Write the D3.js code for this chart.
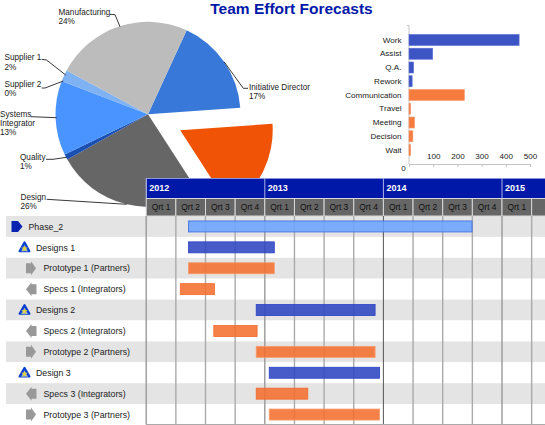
<!DOCTYPE html>
<html><head><meta charset="utf-8">
<script src="https://cdn.jsdelivr.net/npm/d3@7/dist/d3.min.js"></script>
<style>html,body{margin:0;padding:0;background:#fff}svg{display:block}text{font-family:"Liberation Sans",Arial,sans-serif}</style>
</head><body><svg id="c" width="545" height="425"></svg>
<script>
// ---- data ----
const pieNames = ["Initiative Director","","Design","Quality","Systems Integrator","Supplier 2","Supplier 1","Manufacturing"];
const pieValues = [17,17,26,1,13,0,2,24];
const pieColors = ["#3878d8","#f05206","#666666","#1a4fb4","#4a94ff","#2f6fd0","#7fb2f2","#bcbcbc"];
const barNames = ["Work","Assist","Q.A.","Rework","Communication","Travel","Meeting","Decision","Wait"];
const barValues = [455,98,19,13,229,7,23,16,7];
const barGroups = ["b","b","b","b","o","o","o","o","o"];
const barTicks = [0,100,200,300,400,500];
const years = [["2012",0,4],["2013",4,8],["2014",8,12],["2015",12,14.2]];
const quarters = ["Qrt 1","Qrt 2","Qrt 3","Qrt 4","Qrt 1","Qrt 2","Qrt 3","Qrt 4","Qrt 1","Qrt 2","Qrt 3","Qrt 4","Qrt 1",""];
const taskNames = ["Phase_2","Designs 1","Prototype 1 (Partners)","Specs 1 (Integrators)","Designs 2","Specs 2 (Integrators)","Prototype 2 (Partners)","Design 3","Specs 3 (Integrators)","Prototype 3 (Partners)"];
const taskKinds = ["phase","design","proto","spec","design","spec","proto","design","spec","proto"];
const taskStarts = [1.43,1.43,1.43,1.15,3.71,2.28,3.71,4.15,3.71,4.15];
const taskEnds = [10.99,4.32,4.32,2.30,7.72,3.74,7.72,7.87,5.45,7.87];

// ---- layout ----
const svg = d3.select("#c");
const BLUE="#0018a8", BARB="#2d45c0", BARO="#f4702f";

svg.append("text").attr("x",291.5).attr("y",13.5).attr("text-anchor","middle")
  .attr("font-size",15.5).attr("font-weight","bold").attr("fill",BLUE).text("Team Effort Forecasts");

// pie
const R=92.5, cx=148, cy=114.3, rad=Math.PI/180, startA=24.7*rad;
const pie=d3.pie().sort(null).startAngle(startA).endAngle(startA+2*Math.PI);
const arc=d3.arc().innerRadius(0).outerRadius(R);
const gp=svg.append("g").attr("transform",`translate(${cx},${cy})`);
const explodeIdx=1, explodeBy=36;
gp.selectAll("path").data(pie(pieValues)).join("path")
  .attr("d",arc).attr("fill",(d,i)=>pieColors[i])
  .attr("transform",(d,i)=>{
    if(i!==explodeIdx) return null;
    const m=(d.startAngle+d.endAngle)/2;
    return `translate(${Math.sin(m)*explodeBy},${-Math.cos(m)*explodeBy})`;
  });
// pie labels & leaders
const pieLabels=[
 {lines:["Manufacturing","24%"],x:58.5,y:14.7,leader:[[110,14.3],[115,14.7],[120,26.7]]},
 {lines:["Supplier 1","2%"],x:4.5,y:60.3,leader:[[41.7,59.3],[46.5,60],[65.7,75]]},
 {lines:["Supplier 2","0%"],x:4.5,y:87,leader:[[41.7,88],[45,88],[63.3,81]]},
 {lines:["Systems","Integrator","13%"],x:0,y:117,leader:[[31,116.7],[56.7,117.7]]},
 {lines:["Quality","1%"],x:20,y:159.7,leader:[[46,159.3],[53,159.3],[66.7,157.3]]},
 {lines:["Design","26%"],x:20.5,y:200,leader:[[46.7,199.3],[126.7,204.3]]},
 {lines:["Initiative Director","17%"],x:249,y:89.7,leader:[[224,61.7],[243.3,88.3],[248,88.3]]}
];
const line=d3.line();
pieLabels.forEach(l=>{
  svg.append("path").attr("d",line(l.leader)).attr("fill","none").attr("stroke","#222").attr("stroke-width",0.9);
  const t=svg.append("text").attr("font-size",8.2).attr("fill","#222");
  l.lines.forEach((s,i)=>t.append("tspan").attr("x",l.x).attr("y",l.y+i*9.2).text(s));
});

// bar chart
const bx=d3.scaleLinear().domain([0,500]).range([409,530]);
const by=d3.scaleBand().domain(barNames).range([33.1,156.9]);
const AX="#c4c4c4";
const gx=svg.append("g").attr("transform","translate(0,164)")
  .call(d3.axisBottom(bx).tickValues(barTicks).tickSize(3));
gx.select(".domain").attr("stroke",AX);
gx.selectAll("line").attr("stroke",AX);
gx.selectAll("text").attr("font-size",8.1).attr("font-family",'"Liberation Sans"').attr("fill","#222")
  .attr("y",d=>d===0?0:-8).attr("dy","0.32em")
  .attr("transform",d=>d===0?"translate(-6,4)":null);
const gy=svg.append("g").attr("transform","translate(409,0)")
  .call(d3.axisLeft(by).tickSize(0).tickPadding(7.5));
gy.select(".domain").remove();
gy.selectAll("text").attr("font-size",8.1).attr("font-family",'"Liberation Sans"').attr("fill","#222");
svg.append("path").attr("d",line([[407,25.5],[409,25.5],[409,164]])).attr("fill","none").attr("stroke",AX).attr("stroke-width",1);
svg.append("g").selectAll("rect").data(barValues).join("rect")
  .attr("x",bx(0)).attr("width",d=>bx(d)-bx(0))
  .attr("y",(d,i)=>by(barNames[i])+by.bandwidth()/2-5.5).attr("height",11)
  .attr("fill",(d,i)=>barGroups[i]==="b"?BARB:BARO).attr("fill-opacity",0.92)
  .attr("stroke",(d,i)=>barGroups[i]==="b"?"#5a6fd6":"#f69a70").attr("stroke-width",0.6);

// gantt
const qx=d3.scaleLinear().domain([0,1]).range([146.2,146.2+29.65]);
const rowH=20.9, rowsTop=216;
const ry=i=>rowsTop+i*rowH;
// white backing hides the pie beneath the chart
svg.append("rect").attr("x",146).attr("y",178).attr("width",399).attr("height",247).attr("fill","#fff");
// row bands
svg.append("g").selectAll("rect").data(taskNames).join("rect")
  .attr("x",6).attr("width",539).attr("y",(d,i)=>ry(i)).attr("height",rowH)
  .attr("fill",(d,i)=>i%2===0?"#e4e4e4":"#fff");
// header: years
svg.append("rect").attr("x",146).attr("y",178).attr("width",399).attr("height",20).attr("fill",BLUE);
svg.append("path").attr("d",line([[146.5,198],[146.5,178.5],[545,178.5]])).attr("fill","none").attr("stroke","#8b97d8").attr("stroke-width",1);
const gyr=svg.append("g").selectAll("g").data(years).join("g");
gyr.append("line").attr("x1",d=>qx(d[1])).attr("x2",d=>qx(d[1])).attr("y1",178).attr("y2",198).attr("stroke","#a9b3e6").attr("stroke-width",1);
gyr.append("text").attr("x",d=>qx(d[1])+3).attr("y",191.3).attr("font-size",9).attr("font-weight","bold")
  .attr("fill","#fff").text(d=>d[0]);
// header: quarters
const gq=svg.append("g").selectAll("g").data(quarters).join("g");
gq.append("rect").attr("x",(d,i)=>qx(i)).attr("y",198.5).attr("width",29.65).attr("height",17.5)
  .attr("fill","#666").attr("stroke","#d8d8d8").attr("stroke-width",1);
gq.append("text").attr("x",(d,i)=>qx(i+0.5)).attr("y",210.3).attr("text-anchor","middle")
  .attr("font-size",8.4).attr("fill","#111").text(d=>d);
// grid
const gridIdx=d3.range(0,14);
svg.append("g").selectAll("line").data(gridIdx).join("line")
  .attr("x1",d=>qx(d)).attr("x2",d=>qx(d)).attr("y1",rowsTop).attr("y2",424.5)
  .attr("stroke",d=>d===8?"#555":(d===0||d===4||d===12?"#999":"#aaa")).attr("stroke-width",d=>d===8?1:1.4);
svg.append("line").attr("x1",146).attr("x2",545).attr("y1",424.5).attr("y2",424.5).attr("stroke","#aaa");
// task bars
const barFill={phase:"#6ca4ff",design:BARB,proto:BARO,spec:BARO};
const barStroke={phase:"#3a68e0",design:"#2a42c8",proto:"#f79a6c",spec:"#f2692a"};
svg.append("g").selectAll("rect").data(taskNames).join("rect")
  .attr("x",(d,i)=>qx(taskStarts[i])).attr("width",(d,i)=>qx(taskEnds[i])-qx(taskStarts[i]))
  .attr("y",(d,i)=>ry(i)+rowH/2-5.5).attr("height",11)
  .attr("fill",(d,i)=>barFill[taskKinds[i]]).attr("fill-opacity",0.88)
  .attr("stroke",(d,i)=>barStroke[taskKinds[i]]).attr("stroke-width",0.8);
// task labels + icons
const labelX={phase:28.5,design:36,proto:43.5,spec:43.5};
const gt=svg.append("g").selectAll("g").data(taskNames).join("g")
  .attr("transform",(d,i)=>`translate(0,${ry(i)+rowH/2})`);
gt.append("text").attr("x",(d,i)=>labelX[taskKinds[i]]).attr("y",3.2).attr("font-size",8.8)
  .attr("fill","#222").text(d=>d);
gt.each(function(d,i){
  const g=d3.select(this), k=taskKinds[i];
  if(k==="phase"){
    g.append("path").attr("d",line([[11.5,-5.5],[18,-5.5],[22.5,0],[18,5.5],[11.5,5.5]])+"Z").attr("fill","#0a22b0");
  } else if(k==="design"){
    g.append("path").attr("d",line([[24.5,-5],[29.5,3.8],[19.5,3.8]])+"Z").attr("fill","#0b5cf0").attr("stroke","#0b3fd0").attr("stroke-width",2).attr("stroke-linejoin","round");
    g.append("path").attr("d",line([[24.5,-2],[28,4],[21,4]])+"Z").attr("fill","#8fb4c8");
    g.append("path").attr("d",d3.symbol(d3.symbolStar,14)()).attr("transform","translate(24.5,1.2)").attr("fill","#e6d23c");
  } else if(k==="proto"){
    g.append("path").attr("d",line([[26,-5],[31,-5],[31,-7],[36,0],[31,7],[31,5],[26,5]])+"Z").attr("fill","#999");
  } else {
    g.append("path").attr("d",line([[36.5,-5],[31.5,-5],[31.5,-7],[26,0],[31.5,7],[31.5,5],[36.5,5]])+"Z").attr("fill","#999");
  }
});
</script></body></html>
